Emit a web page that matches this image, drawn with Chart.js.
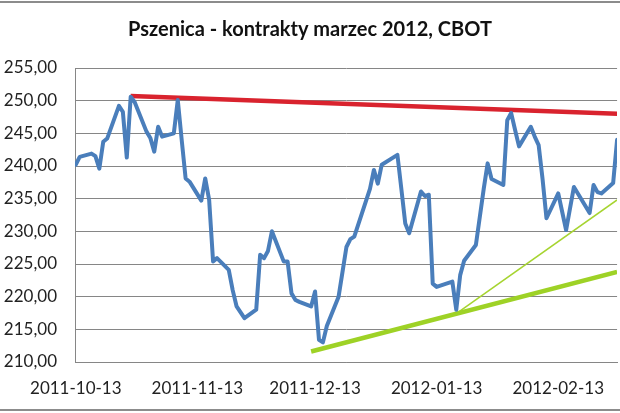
<!DOCTYPE html>
<html>
<head>
<meta charset="utf-8">
<script src="https://cdn.jsdelivr.net/npm/chart.js@4/dist/chart.umd.min.js"></script>
<style>
  html, body { margin: 0; padding: 0; background: #fff; }
  #wrap { width: 620px; height: 413px; }
</style>
</head>
<body>
<div id="wrap"><canvas id="chart" width="620" height="413"></canvas></div>
<script>
// Wheat, March 2012 contract, CBOT - daily closes
const dates = [
  '2011-10-13','2011-10-14','2011-10-17','2011-10-18','2011-10-19','2011-10-20','2011-10-21','2011-10-24','2011-10-25','2011-10-26','2011-10-27','2011-10-28','2011-10-31',
  '2011-11-01','2011-11-02','2011-11-03','2011-11-04','2011-11-07','2011-11-08','2011-11-09','2011-11-10','2011-11-11','2011-11-14','2011-11-15','2011-11-16','2011-11-17','2011-11-18','2011-11-21','2011-11-22','2011-11-23','2011-11-25','2011-11-28','2011-11-29','2011-11-30',
  '2011-12-01','2011-12-02','2011-12-05','2011-12-06','2011-12-07','2011-12-08','2011-12-09','2011-12-12','2011-12-13','2011-12-14','2011-12-15','2011-12-16','2011-12-19','2011-12-20','2011-12-21','2011-12-22','2011-12-23','2011-12-27','2011-12-28','2011-12-29','2011-12-30',
  '2012-01-03','2012-01-04','2012-01-05','2012-01-06','2012-01-09','2012-01-10','2012-01-11','2012-01-12','2012-01-13','2012-01-17','2012-01-18','2012-01-19','2012-01-20','2012-01-23','2012-01-24','2012-01-25','2012-01-26','2012-01-27','2012-01-30','2012-01-31',
  '2012-02-01','2012-02-02','2012-02-03','2012-02-06','2012-02-07','2012-02-08','2012-02-09','2012-02-10','2012-02-13','2012-02-14','2012-02-15','2012-02-16','2012-02-17','2012-02-21','2012-02-22','2012-02-23','2012-02-24','2012-02-27','2012-02-28'
];
const prices = [
  240.2,241.4,241.9,241.5,239.6,243.7,244.2,249.2,248.3,241.3,250.6,249.8,245.3,
  244.3,242.2,246.0,244.5,245.0,250.1,244.0,238.1,237.6,234.7,238.1,234.8,225.4,225.9,224.1,221.0,218.5,216.7,218.0,226.4,225.9,
  227.0,230.0,225.4,225.4,220.5,219.5,219.2,218.5,220.8,213.4,213.0,215.5,220.0,223.8,227.6,228.8,229.2,236.5,239.4,237.3,240.2,
  241.7,236.5,231.2,229.7,236.1,235.4,235.6,222.0,221.5,222.3,218.0,223.3,225.5,227.9,232.2,236.5,240.4,238.0,237.1,247.0,
  248.1,245.5,243.0,246.0,244.5,243.2,238.0,232.0,235.8,233.0,230.2,233.5,236.8,232.8,237.1,236.0,235.8,237.4,244.0
];

// trend lines drawn on the chart
const resistanceDates = ['2011-10-27', '2012-02-28'];
const resistanceValues = [250.7, 248.0];
const supportDates = ['2011-12-12', '2012-02-28'];
const supportValues = [211.6, 223.8];
const steepDates = ['2012-01-18', '2012-02-28'];
const steepValues = [217.4, 234.8];

const xTickDates = ['2011-10-13', '2011-11-13', '2011-12-13', '2012-01-13', '2012-02-13'];
const yTicks = [210, 215, 220, 225, 230, 235, 240, 245, 250, 255];

const origin = Date.UTC(2011, 9, 13);
const dayOf = s => {
  const p = s.split('-').map(Number);
  return Math.round((Date.UTC(p[0], p[1] - 1, p[2]) - origin) / 86400000);
};
const toPoints = (ds, vs) => ds.map((d, i) => ({ x: dayOf(d), y: vs[i] }));

const frame = {
  id: 'frame',
  beforeDraw(chart) {
    const c = chart.ctx;
    c.save();
    c.fillStyle = '#fff';
    c.fillRect(0, 0, chart.width, chart.height);
    c.strokeStyle = '#8c8c8c';
    c.lineWidth = 2;
    c.beginPath();
    c.moveTo(0, 2); c.lineTo(chart.width, 2);
    c.moveTo(0, 410); c.lineTo(chart.width, 410);
    c.stroke();
    c.restore();
  }
};

const lineStyle = { pointRadius: 0, fill: false, tension: 0 };

new Chart(document.getElementById('chart'), {
  type: 'line',
  data: {
    datasets: [
      { ...lineStyle, label: 'steep', data: toPoints(steepDates, steepValues), borderColor: '#a6d430', borderWidth: 1.5, order: 3 },
      { ...lineStyle, label: 'support', data: toPoints(supportDates, supportValues), borderColor: '#9ed226', borderWidth: 4.5, order: 2 },
      { ...lineStyle, label: 'resistance', data: toPoints(resistanceDates, resistanceValues), borderColor: '#d9232e', borderWidth: 4.5, order: 1 },
      { ...lineStyle, label: 'price', data: toPoints(dates, prices), borderColor: '#4a7ebb', borderWidth: 4, borderJoinStyle: 'round', borderCapStyle: 'round', order: 0 }
    ]
  },
  options: {
    responsive: false,
    animation: false,
    layout: { padding: { left: 0, right: 0, top: 0, bottom: 0 } },
    plugins: {
      legend: { display: false },
      tooltip: { enabled: false },
      title: {
        display: true,
        text: 'Pszenica - kontrakty marzec 2012, CBOT',
        color: '#111',
        font: { family: 'Lato', size: 20, weight: 'bold' },
        padding: { top: 18, bottom: 26 }
      }
    },
    scales: {
      x: {
        type: 'linear',
        min: -0.2,
        max: 138,
        afterFit(scale) { scale.height = 51; },
        afterBuildTicks(scale) { scale.ticks = xTickDates.map(d => ({ value: dayOf(d) })); },
        grid: { display: false, drawTicks: false },
        border: { display: true, color: '#868686', width: 1 },
        ticks: {
          padding: 16,
          maxRotation: 0,
          autoSkip: false,
          color: '#222',
          font: { family: 'Lato', size: 17 },
          callback: v => new Date(origin + v * 86400000).toISOString().slice(0, 10)
        }
      },
      y: {
        min: 210,
        max: 255,
        afterFit(scale) { scale.width = 75; },
        afterBuildTicks(scale) { scale.ticks = yTicks.map(v => ({ value: v })); },
        grid: { color: '#868686', lineWidth: 1, drawTicks: false },
        border: { display: true, color: '#868686', width: 1 },
        ticks: {
          padding: 18,
          color: '#222',
          font: { family: 'Lato', size: 17 },
          callback: v => v.toFixed(2).replace('.', ',')
        }
      }
    }
  },
  plugins: [frame]
});
</script>
</body>
</html>
